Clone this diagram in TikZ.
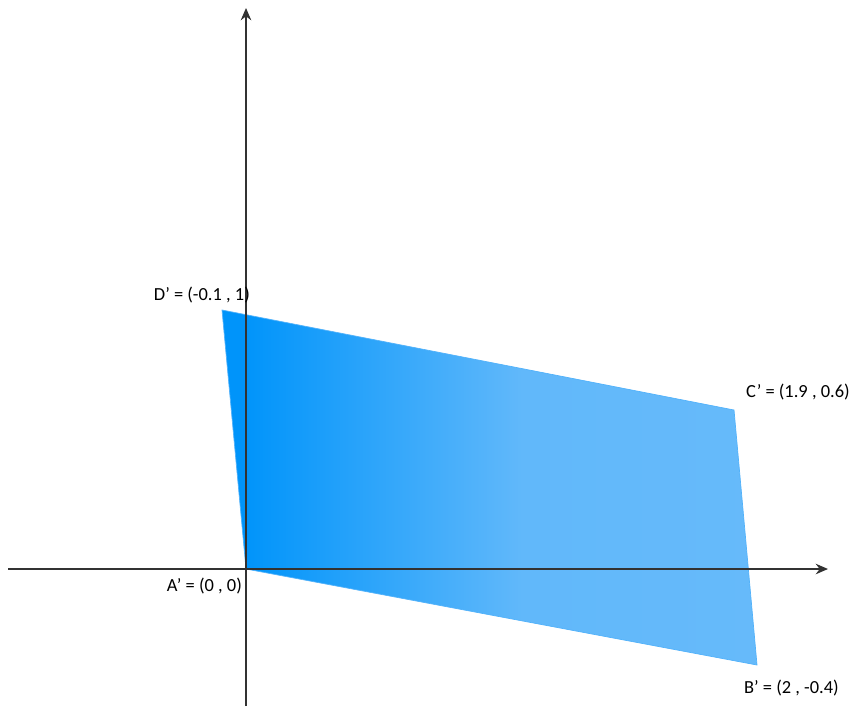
\documentclass[tikz,border=0pt]{standalone}
\usepackage{fontspec}
\setmainfont{Carlito}
\usetikzlibrary{arrows.meta}

\definecolor{bluedark}{RGB}{0,148,250}
\definecolor{bluelight}{RGB}{102,186,250}
\pgfdeclarehorizontalshading{bluefade}{100bp}{color(0bp)=(bluedark); color(25bp)=(bluedark);
	color(27bp)=(bluedark); color(53bp)=(bluelight!95!bluedark); color(75bp)=(bluelight); color(100bp)=(bluelight)}

\begin{document}
\begin{tikzpicture}[x=0.02cm,y=-0.02cm]

		\definecolor{axisgray}{RGB}{50,50,50}

		\useasboundingbox (0,0) rectangle (864,706);

		\tikzstyle{axis} = [draw=axisgray,line width=0.9pt,-{Stealth[length=7pt,width=6pt]}]
		\tikzset{lbl/.style = {font=\fontsize{10.5}{12}\selectfont,text=black,inner sep=1pt}}

		% corners of the parallelogram
		\coordinate (A) at (246,569);
		\coordinate (B) at (757,665);
		\coordinate (C) at (734,410);
		\coordinate (D) at (222,310);

		% axes ends
		\coordinate (xl) at (8,569);
		\coordinate (xr) at (828,569);
		\coordinate (yb) at (246,706);
		\coordinate (yt) at (246,8);

		\shade[shading=bluefade] (A) -- (B) -- (C) -- (D) -- cycle;
		\draw[bluelight!80!bluedark,line width=0.4pt] (A) -- (B) -- (C) -- (D) -- cycle;

		\draw[axis] (xl) to (xr);
		\draw[axis] (yb) to (yt);

		\node[lbl,anchor=east] (la) at (244,586) {A’ = (0 , 0)};
		\node[lbl,anchor=west] (lb) at (742,688) {B’ = (2 , -0.4)};
		\node[lbl,anchor=west] (lc) at (744,392) {C’ = (1.9 , 0.6)};
		\node[lbl,anchor=east] (ld) at (252,295) {D’ = (-0.1 , 1)};
		%\node[lbl] at (246,569) {};

		\end{tikzpicture}
\end{document}
